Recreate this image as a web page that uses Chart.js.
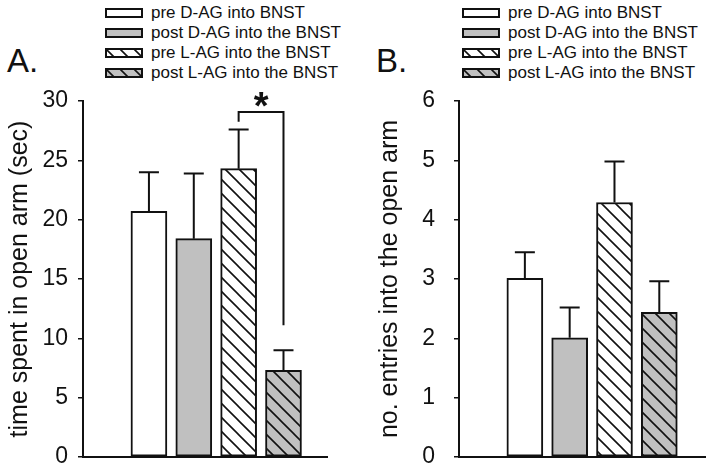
<!DOCTYPE html>
<html>
<head>
<meta charset="utf-8">
<script src="https://cdn.jsdelivr.net/npm/chart.js@4/dist/chart.umd.min.js"></script>
<style>
  body { margin: 0; background: #fff; width: 712px; height: 474px; position: relative; overflow: hidden;
         font-family: "Liberation Sans", Arial, sans-serif; color: #111; }
  canvas.chart { position: absolute; top: 0; }
  .panel { position: absolute; font-size: 33px; line-height: 33px; }
  .row { position: absolute; font-size: 17px; line-height: 20px; white-space: nowrap; }
  .row canvas { position: absolute; left: 0; top: 5px; }
  .row span { position: absolute; top: 0; }
</style>
</head>
<body>
<div class="panel" style="left:7px;top:44px">A.</div>
<div class="panel" style="left:376px;top:44px">B.</div>
<div id="legA"></div>
<div id="legB"></div>
<canvas id="chartA" class="chart" width="356" height="474" style="left:0"></canvas>
<canvas id="chartB" class="chart" width="356" height="474" style="left:356px"></canvas>
<script>
// data
const groups = ['pre D-AG into BNST', 'post D-AG into the BNST', 'pre L-AG into the BNST', 'post L-AG into the BNST'];
const timeMean = [20.7, 18.4, 24.3, 7.3];
const timeSem = [3.3, 5.5, 3.3, 1.7];
const entriesMean = [3.01, 2.01, 4.29, 2.44];
const entriesSem = [0.44, 0.51, 0.69, 0.52];
// significance bracket between pre and post L-AG (panel A): [from, to], top, leg ends
const sigPair = [3, 4];
const sigTop = 29.07;
const sigLegs = [28.25, 11.1];

Chart.defaults.font.family = '"Liberation Sans", Arial, sans-serif';
Chart.defaults.color = '#111';

const INK = '#111';
const GRAY = '#c0c0c0';

function hatch(bg) {
  const s = 14;
  const c = document.createElement('canvas');
  c.width = s; c.height = s;
  const g = c.getContext('2d');
  g.fillStyle = bg; g.fillRect(0, 0, s, s);
  g.strokeStyle = INK; g.lineWidth = 1.6;
  g.beginPath();
  g.moveTo(-2, -2); g.lineTo(s + 2, s + 2);
  g.moveTo(-2, s - 2); g.lineTo(2, s + 2);
  g.moveTo(s - 2, -2); g.lineTo(s + 2, 2);
  g.stroke();
  return g.createPattern(c, 'repeat');
}

// fills built per canvas so patterns belong to it
function fills() {
  return ['#ffffff', GRAY, hatch('#ffffff'), hatch(GRAY)];
}

function buildLegend(id, boxLeft, textLeft, top) {
  const host = document.getElementById(id);
  const f = fills();
  groups.forEach((name, i) => {
    const row = document.createElement('div');
    row.className = 'row';
    row.style.left = boxLeft + 'px';
    row.style.top = (top + i * 20) + 'px';
    const sw = document.createElement('canvas');
    sw.width = 38; sw.height = 10;
    const g = sw.getContext('2d');
    g.fillStyle = f[i]; g.fillRect(0, 0, 38, 10);
    g.strokeStyle = INK; g.lineWidth = 2; g.strokeRect(1, 1, 36, 8);
    const t = document.createElement('span');
    t.style.left = (textLeft - boxLeft) + 'px';
    t.textContent = name;
    row.appendChild(sw); row.appendChild(t);
    host.appendChild(row);
  });
}
buildLegend('legA', 105, 151, 3);
buildLegend('legB', 462, 508, 3);

const errorBars = {
  id: 'errorBars',
  afterDatasetsDraw(chart, args, opts) {
    const ctx = chart.ctx, y = chart.scales.y;
    const ds = chart.data.datasets[0].data;
    ctx.save();
    ctx.strokeStyle = INK; ctx.lineWidth = 2;
    chart.getDatasetMeta(0).data.forEach((bar, i) => {
      const top = y.getPixelForValue(ds[i].y + opts.sem[i]);
      ctx.beginPath();
      ctx.moveTo(bar.x, bar.y); ctx.lineTo(bar.x, top);
      ctx.moveTo(bar.x - 10, top); ctx.lineTo(bar.x + 10, top);
      ctx.stroke();
    });
    ctx.restore();
  }
};

const sigBracket = {
  id: 'sigBracket',
  afterDatasetsDraw(chart, args, opts) {
    if (!opts.show) return;
    const ctx = chart.ctx, x = chart.scales.x, y = chart.scales.y;
    const x1 = x.getPixelForValue(sigPair[0]), x2 = x.getPixelForValue(sigPair[1]);
    const yt = y.getPixelForValue(sigTop);
    ctx.save();
    ctx.strokeStyle = INK; ctx.lineWidth = 2;
    ctx.beginPath();
    ctx.moveTo(x1, y.getPixelForValue(sigLegs[0]));
    ctx.lineTo(x1, yt); ctx.lineTo(x2, yt);
    ctx.lineTo(x2, y.getPixelForValue(sigLegs[1]));
    ctx.stroke();
    ctx.fillStyle = INK;
    ctx.font = 'bold 38px "Liberation Sans", Arial, sans-serif';
    ctx.textAlign = 'center';
    ctx.textBaseline = 'alphabetic';
    const m = ctx.measureText('*');
    ctx.fillText('*', (x1 + x2) / 2, yt - 5 - m.actualBoundingBoxDescent);
    ctx.restore();
  }
};

function makeChart(id, means, sem, yMax, step, xMin, xMax, axisW, padRight, titleText, titlePad, tickPad, bracket) {
  const ctx = document.getElementById(id).getContext('2d');
  return new Chart(ctx, {
    type: 'bar',
    data: {
      datasets: [{
        data: means.map((v, i) => ({ x: i + 1, y: v })),
        backgroundColor: fills(),
        borderColor: INK,
        borderWidth: 2,
        borderSkipped: false,
        barThickness: 36
      }]
    },
    options: {
      responsive: false,
      animation: false,
      layout: { padding: { left: 0, right: padRight, top: 101, bottom: 0 } },
      plugins: {
        legend: { display: false },
        tooltip: { enabled: false },
        errorBars: { sem: sem },
        sigBracket: { show: bracket }
      },
      scales: {
        x: {
          type: 'linear', min: xMin, max: xMax, offset: false,
          ticks: { display: false },
          grid: { display: false },
          border: { display: true, color: INK, width: 2 },
          afterFit(s) { s.height = 17; }
        },
        y: {
          min: 0, max: yMax,
          ticks: { stepSize: step, padding: tickPad, font: { size: 23 }, color: INK },
          grid: { display: true, drawOnChartArea: false, drawTicks: true, tickLength: 5, color: INK, lineWidth: 1.5 },
          border: { display: true, color: INK, width: 2 },
          title: { display: true, text: titleText, font: { size: 25 }, color: INK, padding: { top: titlePad, bottom: 0 } },
          afterFit(s) { s.width = axisW; s.paddingTop = 0; s.paddingBottom = 0; }
        }
      }
    },
    plugins: [errorBars, sigBracket]
  });
}

makeChart('chartA', timeMean, timeSem, 30, 5, -0.47, 4.97, 83, 29,
  'time spent in open arm (sec)', 5, 10, true);
makeChart('chartB', entriesMean, entriesSem, 6, 1, -0.47, 5.02, 103, 7,
  'no. entries into the open arm', 19, 19, false);
</script>
</body>
</html>
